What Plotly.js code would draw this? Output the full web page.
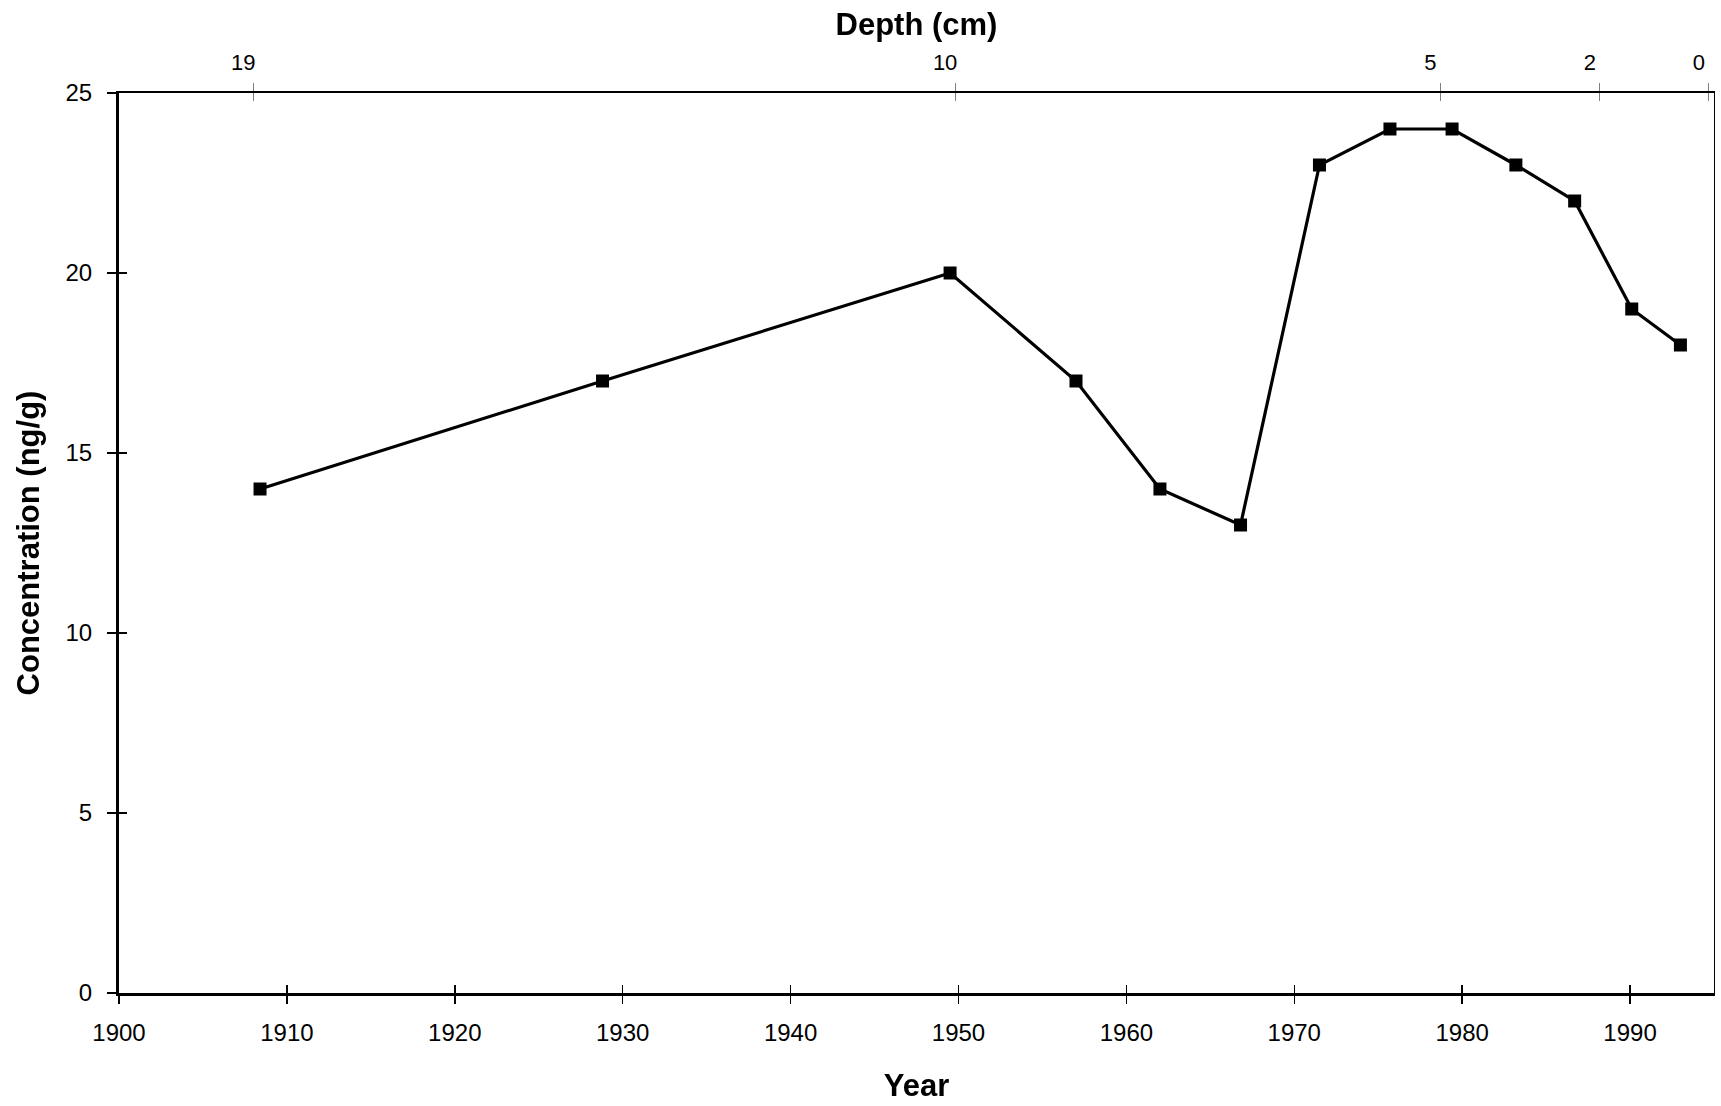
<!DOCTYPE html>
<html>
<head>
<meta charset="utf-8">
<script src="https://cdn.plot.ly/plotly-3.0.1.min.js"></script>
<style>html,body{margin:0;padding:0;background:#fff;}#chart{width:1721px;height:1106px;}</style>
</head>
<body>
<div id="chart"></div>
<script>
// Data
const years = [1908.4, 1928.8, 1949.5, 1957.0, 1962.0, 1966.8, 1971.5, 1975.7, 1979.4, 1983.2, 1986.7, 1990.1, 1993.0];
const concentration = [14, 17, 20, 17, 14, 13, 23, 24, 24, 23, 22, 19, 18];
const depthTickYears = [1908.0, 1949.8, 1978.7, 1988.2, 1994.7];
const depthTickLabels = ['19', '10', '5', '2', '0'];
const yearTicks = [1900, 1910, 1920, 1930, 1940, 1950, 1960, 1970, 1980, 1990];
const concTicks = [0, 5, 10, 15, 20, 25];

const FONT = 'Liberation Sans, Arial, sans-serif';
const xRange = [1900, 1995];
const yRange = [0, 25];

const trace = {
  x: years,
  y: concentration,
  type: 'scatter',
  mode: 'lines+markers',
  line: {color: '#000', width: 3.2},
  marker: {symbol: 'square', size: 13, color: '#000'},
  hoverinfo: 'x+y',
  showlegend: false
};

// invisible helper traces so the overlay axes (crossing ticks, top depth axis, right border) get drawn
function helper(xa, ya) {
  return {
    x: years, y: concentration, xaxis: xa, yaxis: ya,
    type: 'scatter', mode: 'markers',
    marker: {size: 1, opacity: 0}, opacity: 0,
    hoverinfo: 'skip', showlegend: false
  };
}

const data = [helper('x2', 'y'), helper('x3', 'y'), helper('x4', 'y'), helper('x', 'y2'), helper('x', 'y3'), trace];

const layout = {
  width: 1721,
  height: 1106,
  paper_bgcolor: '#fff',
  plot_bgcolor: '#fff',
  margin: {l: 119, r: 7, t: 93, b: 113},
  font: {family: FONT, size: 24, color: '#000'},
  showlegend: false,
  xaxis: {
    range: xRange,
    tickvals: yearTicks,
    ticks: 'outside', ticklen: 8, tickwidth: 1.5, tickcolor: '#000',
    showline: true, linewidth: 3, linecolor: '#000',
    showgrid: false, zeroline: false,
    tickfont: {family: FONT, size: 24},
    ticklabelstandoff: 8,
    title: {text: '<b>Year</b>', font: {family: FONT, size: 31}, standoff: 30},
    automargin: false,
    fixedrange: true
  },
  xaxis3: {
    overlaying: 'x', anchor: 'y', side: 'bottom',
    range: xRange, tickvals: yearTicks,
    ticks: 'inside', ticklen: 8, tickwidth: 1.5, tickcolor: '#000',
    showticklabels: false, showline: false, showgrid: false, zeroline: false,
    automargin: false, fixedrange: true
  },
  xaxis2: {
    overlaying: 'x', anchor: 'y', side: 'top',
    range: xRange,
    tickvals: depthTickYears, ticktext: depthTickLabels,
    ticks: 'outside', ticklen: 8, tickwidth: 1, tickcolor: '#808080',
    showline: true, linewidth: 2.5, linecolor: '#000',
    showgrid: false, zeroline: false,
    tickfont: {family: FONT, size: 22},
    ticklabelshift: -10,
    ticklabelstandoff: 4,
    title: {text: '<b>Depth (cm)</b>', font: {family: FONT, size: 31}, standoff: 5},
    automargin: false, fixedrange: true
  },
  xaxis4: {
    overlaying: 'x', anchor: 'y', side: 'top',
    range: xRange, tickvals: depthTickYears,
    ticks: 'inside', ticklen: 8, tickwidth: 1, tickcolor: '#808080',
    showticklabels: false, showline: false, showgrid: false, zeroline: false,
    automargin: false, fixedrange: true
  },
  yaxis: {
    range: yRange,
    tickvals: concTicks,
    ticks: 'outside', ticklen: 9, tickwidth: 1.5, tickcolor: '#000',
    showline: true, linewidth: 3, linecolor: '#000',
    showgrid: false, zeroline: false,
    tickfont: {family: FONT, size: 24},
    ticklabelstandoff: 10,
    title: {text: '<b>Concentration (ng/g)</b>', font: {family: FONT, size: 31}, standoff: 17},
    automargin: false, fixedrange: true
  },
  yaxis2: {
    overlaying: 'y', anchor: 'x', side: 'left',
    range: yRange, tickvals: concTicks,
    ticks: 'inside', ticklen: 8, tickwidth: 1.5, tickcolor: '#000',
    showticklabels: false, showline: false, showgrid: false, zeroline: false,
    automargin: false, fixedrange: true
  },
  yaxis3: {
    overlaying: 'y', anchor: 'x', side: 'right',
    range: yRange,
    ticks: '', showticklabels: false,
    showline: true, linewidth: 1.2, linecolor: '#000',
    showgrid: false, zeroline: false,
    automargin: false, fixedrange: true
  }
};

Plotly.newPlot('chart', data, layout, {displayModeBar: false, staticPlot: true});
</script>
</body>
</html>
